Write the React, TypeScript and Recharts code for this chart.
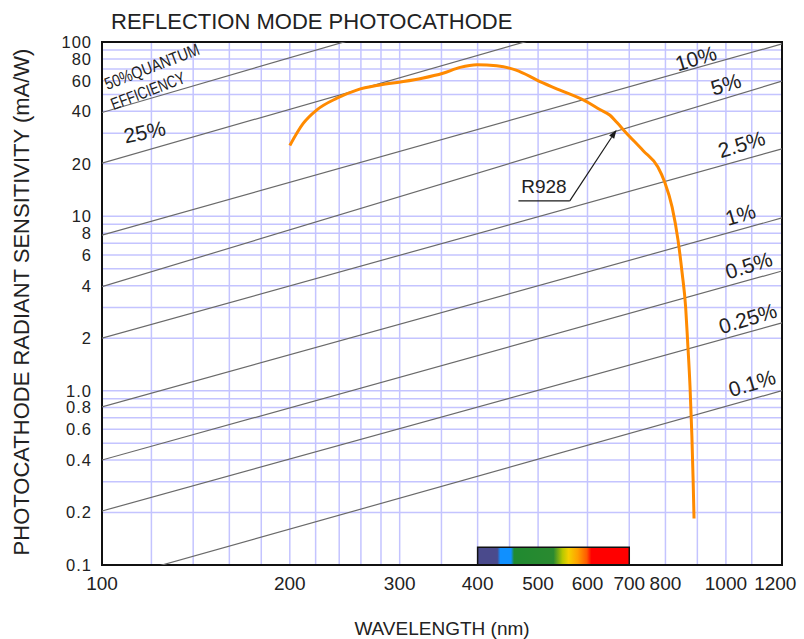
import React from "react";
import {
  LineChart,
  Line,
  XAxis,
  YAxis,
  CartesianGrid,
  ReferenceArea,
  ReferenceDot,
  ReferenceLine,
} from "recharts";

const FONT = '"Liberation Sans", Arial, Helvetica, sans-serif';
const INK = "#1a1a1a";

// axis range of the sheet (nm, mA/W)
const X_MIN = 100;
const X_MAX = 1230;
const Y_MIN = 0.1;
const Y_MAX = 100;

// R928 spectral response
const curveWavelength = [
  200, 210, 221, 238, 256, 279, 304, 326, 352, 375, 399, 429, 461, 485, 497, 542, 598, 628,
  652, 669, 690, 737, 778, 798, 820, 838, 851, 862, 868, 876, 882, 886, 889,
];
const curveSensitivity = [
  25.5, 34, 40.8, 47.6, 53, 56.7, 59.3, 62, 66.2, 71.5, 74, 73, 69, 63.5, 60.6, 53, 45.5, 41,
  38, 34.5, 30.5, 23.8, 19.2, 15.7, 11.3, 7.3, 4.7, 3.0, 1.95, 1.05, 0.55, 0.31, 0.185,
];

// quantum efficiency guide lines: value at 100 nm and at the right edge
const qeNames = ["50%", "25%", "10%", "5%", "2.5%", "1%", "0.5%", "0.25%", "0.1%"];
const qeAtLeft = [39.4, 20.2, 7.8, 3.95, 2.0, 0.806, 0.4, 0.204, 0.08];
const qeAtRight = [540, 265, 97.5, 59.6, 24.4, 9.79, 4.86, 2.45, 1.0];

// ticks and grid
const xTicks = [100, 200, 300, 400, 500, 600, 700, 800, 1000, 1200];
const yTicks = [0.1, 0.2, 0.4, 0.6, 0.8, 1, 2, 4, 6, 8, 10, 20, 40, 60, 80, 100];
const yTickLabels = ["0.1", "0.2", "0.4", "0.6", "0.8", "1.0", "2", "4", "6", "8", "10", "20", "40", "60", "80", "100"];
const gridWavelength = [
  120, 140, 160, 180, 200, 220, 240, 260, 280, 300, 350, 400, 450, 500, 600, 700, 800, 900, 1000, 1100,
];
const gridSensitivity = [
  0.2, 0.3, 0.4, 0.5, 0.6, 0.7, 0.8, 0.9, 1, 2, 3, 4, 5, 6, 7, 8, 9, 10, 20, 30, 40, 50, 60, 70, 80, 90,
];

// visible spectrum strip under the plot
const spectrumFrom = 400;
const spectrumTo = 700;

const curveData = curveWavelength.map((x, i) => ({ x, y: curveSensitivity[i] }));
const qeData = qeNames.map((_, i) => [
  { x: X_MIN, y: qeAtLeft[i] },
  { x: X_MAX, y: qeAtRight[i] },
]);

// point on a guide line (straight in log-log)
function onGuide(i: number, wl: number) {
  const t = (Math.log10(wl) - Math.log10(X_MIN)) / (Math.log10(X_MAX) - Math.log10(X_MIN));
  const a = Math.log10(qeAtLeft[i]);
  const b = Math.log10(qeAtRight[i]);
  return Math.pow(10, a + t * (b - a));
}

// where the guide labels sit: wavelength of the text centre, lift above the line in px
const guideTags = [
  { line: 0, text: "50%QUANTUM", at: 120.3, lift: 31, size: 17, angle: -21, len: 100 },
  { line: 0, text: "EFFICIENCY", at: 118.5, lift: 8, size: 17, angle: -21, len: 78 },
  { line: 1, at: 117, lift: 19, angle: -12 },
  { line: 2, at: 895, lift: 10 },
  { line: 3, at: 1000, lift: 14 },
  { line: 4, at: 1059, lift: 16 },
  { line: 5, at: 1055, lift: 15 },
  { line: 6, at: 1088, lift: 15 },
  { line: 7, at: 1084, lift: 14 },
  { line: 8, at: 1101, lift: 16 },
];

function GuideTag(props: any) {
  const { cx, cy, tag } = props;
  const x = cx;
  const y = cy - tag.lift;
  const angle = tag.angle ?? -17;
  return (
    <text
      x={x}
      y={y}
      transform={`rotate(${angle} ${x} ${y})`}
      textAnchor="middle"
      dominantBaseline="central"
      fontFamily={FONT}
      fontSize={tag.size ?? 21}
      fill="#222"
      {...(tag.len ? { textLength: tag.len, lengthAdjust: "spacingAndGlyphs" } : {})}
    >
      {tag.text ?? qeNames[tag.line]}
    </text>
  );
}

function Leader(props: any) {
  const { x1, y1, x2, y2 } = props;
  const dx = x2 - x1;
  const dy = y2 - y1;
  const d = Math.hypot(dx, dy) || 1;
  const ux = dx / d;
  const uy = dy / d;
  const bx = x2 - ux * 9;
  const by = y2 - uy * 9;
  return (
    <g>
      <line x1={x1} y1={y1} x2={bx} y2={by} stroke={INK} strokeWidth={1.2} />
      <polygon
        points={`${x2},${y2} ${bx - uy * 3},${by + ux * 3} ${bx + uy * 3},${by - ux * 3}`}
        fill={INK}
      />
    </g>
  );
}

export default function App() {
  return (
    <div style={{ position: "absolute", left: 0, top: 0, width: 804, height: 639, background: "#fff" }}>
      <div
        style={{
          position: "absolute",
          left: 111,
          top: 11,
          fontFamily: FONT,
          fontSize: 22,
          lineHeight: "22px",
          color: "#222",
          whiteSpace: "nowrap",
        }}
      >
        REFLECTION MODE PHOTOCATHODE
      </div>
      <LineChart width={804} height={639} margin={{ top: 42, right: 22, bottom: 0, left: 0 }}>
        <defs>
          <linearGradient id="spectrum" x1="0" y1="0" x2="1" y2="0">
            <stop offset="0" stopColor="#4a4a8c" />
            <stop offset="0.13" stopColor="#4a4a8c" />
            <stop offset="0.15" stopColor="#1090ff" />
            <stop offset="0.22" stopColor="#1090ff" />
            <stop offset="0.24" stopColor="#208a30" />
            <stop offset="0.5" stopColor="#2a8a30" />
            <stop offset="0.56" stopColor="#b8c800" />
            <stop offset="0.6" stopColor="#f5d000" />
            <stop offset="0.66" stopColor="#ffa000" />
            <stop offset="0.72" stopColor="#ff5a00" />
            <stop offset="0.75" stopColor="#ff0000" />
            <stop offset="1" stopColor="#ff0000" />
          </linearGradient>
        </defs>
        <CartesianGrid
          stroke="#c4c4ff"
          strokeWidth={1.5}
          horizontalValues={gridSensitivity}
          verticalValues={gridWavelength}
        />
        <XAxis
          dataKey="x"
          type="number"
          scale="log"
          domain={[X_MIN, X_MAX]}
          allowDataOverflow
          ticks={xTicks}
          interval={0}
          tickLine={false}
          axisLine={false}
          height={74}
          tickSize={6}
          tickMargin={6}
          tick={{ fill: "#222", fontSize: 19, fontFamily: FONT }}
          label={{
            content: () => (
              <text x={442} y={635} textAnchor="middle" fontFamily={FONT} fontSize={19} fill="#222">
                WAVELENGTH (nm)
              </text>
            ),
          }}
        />
        <YAxis
          type="number"
          scale="log"
          domain={[Y_MIN, Y_MAX]}
          allowDataOverflow
          ticks={yTicks}
          interval={0}
          tickLine={false}
          axisLine={false}
          width={102}
          tickSize={6}
          tickMargin={4}
          tick={{ fill: "#222", fontSize: 16.5, fontFamily: FONT, letterSpacing: 1 }}
          tickFormatter={(v: number) => {
            const k = yTicks.indexOf(v);
            return k >= 0 ? yTickLabels[k] : String(v);
          }}
          label={{
            content: () => (
              <text
                x={21}
                y={302}
                transform="rotate(-90 21 302)"
                textAnchor="middle"
                dominantBaseline="central"
                fontFamily={FONT}
                fontSize={22}
                fill="#222"
              >
                PHOTOCATHODE RADIANT SENSITIVITY (mA/W)
              </text>
            ),
          }}
        />
        {qeData.map((d, i) => (
          <Line
            key={qeNames[i]}
            data={d}
            dataKey="y"
            type="linear"
            stroke="#6a6a6a"
            strokeWidth={1.2}
            dot={false}
            activeDot={false}
            isAnimationActive={false}
          />
        ))}
        <Line
          data={curveData}
          dataKey="y"
          type="monotone"
          stroke="#ff8a00"
          strokeWidth={3}
          dot={false}
          activeDot={false}
          isAnimationActive={false}
        />
        <ReferenceArea
          x1={spectrumFrom}
          x2={spectrumTo}
          y1={Y_MIN}
          y2={0.1263}
          fill="url(#spectrum)"
          fillOpacity={1}
          stroke="#111"
          strokeWidth={1.5}
        />
        <ReferenceArea
          x1={X_MIN}
          x2={X_MAX}
          y1={Y_MIN}
          y2={Y_MAX}
          fill="none"
          stroke="#111"
          strokeWidth={2}
        />
        <ReferenceLine
          segment={[
            { x: 465, y: 12.26 },
            { x: 562, y: 12.26 },
          ]}
          stroke={INK}
          strokeWidth={1.2}
        />
        <ReferenceLine
          segment={[
            { x: 562, y: 12.26 },
            { x: 668, y: 31.4 },
          ]}
          stroke={INK}
          shape={Leader}
        />
        <ReferenceDot
          x={511}
          y={14.9}
          r={1}
          shape={(p: any) => (
            <text
              x={p.cx}
              y={p.cy}
              textAnchor="middle"
              dominantBaseline="central"
              fontFamily={FONT}
              fontSize={19}
              fill="#222"
            >
              R928
            </text>
          )}
        />
        {guideTags.map((tag, k) => (
          <ReferenceDot
            key={k}
            x={tag.at}
            y={onGuide(tag.line, tag.at)}
            r={1}
            shape={(p: any) => <GuideTag {...p} tag={tag} />}
          />
        ))}
      </LineChart>
    </div>
  );
}
